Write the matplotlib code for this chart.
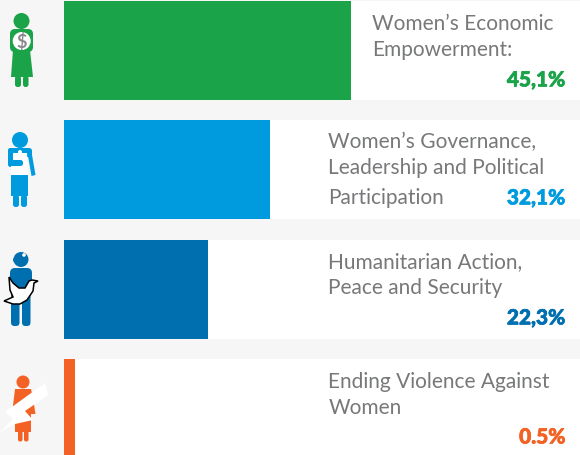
#!/usr/bin/env python

import matplotlib
matplotlib.use('Agg')
from matplotlib import pyplot as plt
from matplotlib import patches
from matplotlib import patheffects

plt.rcParams["font.family"] = "Lato"

# bar lengths as drawn in the picture (the last bar is wider than its 0.5% label)
bar_values = [44.9, 32.2, 22.5, 1.7]
bar_colors = ['#1ba34a', '#009bdf', '#006fb0', '#f36224']
pct_labels = ['45,1%', '32,1%', '22,3%', '0.5%']
row_labels = [
    [("Women\u2019s Economic", 373, 24), ("Empowerment:", 373, 50)],
    [("Women\u2019s Governance,", 329, 142), ("Leadership and Political", 329, 168), ("Participation", 329, 198)],
    [("Humanitarian Action,", 329, 262), ("Peace and Security", 329, 288)],
    [("Ending Violence Against", 329, 382), ("Women", 329, 408)],
]
pct_y = [80, 198, 318, 437]

BG = '#f6f6f6'
GREY = '#77787a'
ROW = 119.33

fig = plt.figure(figsize=(5.8, 4.55), dpi=100, facecolor=BG)

# bars
ax = fig.add_axes([64 / 580, 0, 516 / 580, 1])
ax.set_xlim(0, 516 / 6.4)
ax.set_ylim((455 - 50.5) / ROW, -50.5 / ROW)
rows = range(4)
ax.barh(rows, [516 / 6.4] * 4, height=99 / ROW, color='white', linewidth=0)
ax.barh(rows, bar_values, height=99 / ROW, color=bar_colors, linewidth=0)
ax.axis('off')

# overlay in pixel coordinates, for text and the little figures
ov = fig.add_axes([0, 0, 1, 1])
ov.set_xlim(0, 580)
ov.set_ylim(455, 0)
ov.axis('off')
ov.patch.set_alpha(0)

for lines in row_labels:
    for txt, x, y in lines:
        ov.text(x - 0.5, y, txt, fontsize=15, color=GREY, va='center', ha='left')
for lab, y, c in zip(pct_labels, pct_y, bar_colors):
    t = ov.text(565.5, y, lab, fontsize=15, color=c, fontweight='black', va='center', ha='right')
    t.set_path_effects([patheffects.withStroke(linewidth=0.5, foreground=c)])


def rect(x, y, w, h, c, r=1.5):
    ov.add_patch(patches.FancyBboxPatch((x + r, y + r), w - 2 * r, h - 2 * r,
                                        boxstyle='round,pad=%g' % r, fc=c, ec='none'))


def poly(pts, c, **kw):
    ov.add_patch(patches.Polygon(pts, closed=True, fc=c, ec=kw.pop('ec', 'none'), **kw))


def head(x, y, r, c):
    ov.add_patch(patches.Circle((x, y), r, fc=c, ec='none'))


# green figure with money
g = bar_colors[0]
head(21.5, 21, 8, g)
rect(10, 29, 23, 23, g, 5)
poly([(13, 50), (30, 50), (33, 77), (11, 77)], g)
rect(15, 76, 6, 11, g, 2.5)
rect(23, 76, 5.5, 11, g, 2.5)
head(21.7, 41, 9, 'white')
ov.text(21.7, 41.5, '$', fontsize=13, color='#8a8a8a', fontweight='bold', ha='center', va='center')

# blue figure with clipboard
b = bar_colors[1]
head(20, 140, 8, b)
rect(8, 148, 24, 9, b, 3)
rect(8, 148, 6, 19, b, 2.5)
poly([(27, 150), (31, 149), (35.5, 175), (31.5, 176)], b)
rect(11, 175, 17, 21, b, 0.5)
rect(13, 195, 6, 12, b, 2.5)
rect(21, 195, 6, 12, b, 2.5)
poly([(13, 153), (27, 153), (28, 175), (11, 175), (11, 166), (13, 166)], 'white')
rect(9, 160, 14, 6, b, 2.5)
head(20, 152, 2, 'white')

# dark blue figure with dove
d = bar_colors[2]
head(21, 259.5, 7.5, d)
ov.add_patch(patches.Ellipse((19.5, 260), 13, 8, fc=d, ec='none'))
head(24, 255, 1.8, 'white')
rect(10, 268, 22, 24, d, 5)
rect(11, 290, 8.5, 36, d, 3.5)
rect(22, 290, 8.5, 36, d, 3.5)
dove = [(9, 277), (13, 283), (19, 288), (25, 288), (29, 281), (32, 280), (38, 281), (34, 283),
        (33, 291), (27, 300), (20, 304), (13, 304), (4, 301), (13, 297), (10, 290)]
poly(dove, 'white', ec='black', lw=1.1)

# orange figure with tear
o = bar_colors[3]
head(23, 382, 6.5, o)
poly([(15, 389), (31, 389), (33, 398), (35.5, 414), (12, 414)], o)
rect(15, 410, 16, 22, o, 0.5)
rect(18, 430, 4.5, 11.5, o, 2)
rect(24, 430, 4.5, 11.5, o, 2)
poly([(45, 383), (48, 395), (25, 411), (33, 420), (15, 424), (0, 432), (13, 419), (5, 412)], 'white')

fig.savefig('out.png', dpi=100, facecolor=BG)
